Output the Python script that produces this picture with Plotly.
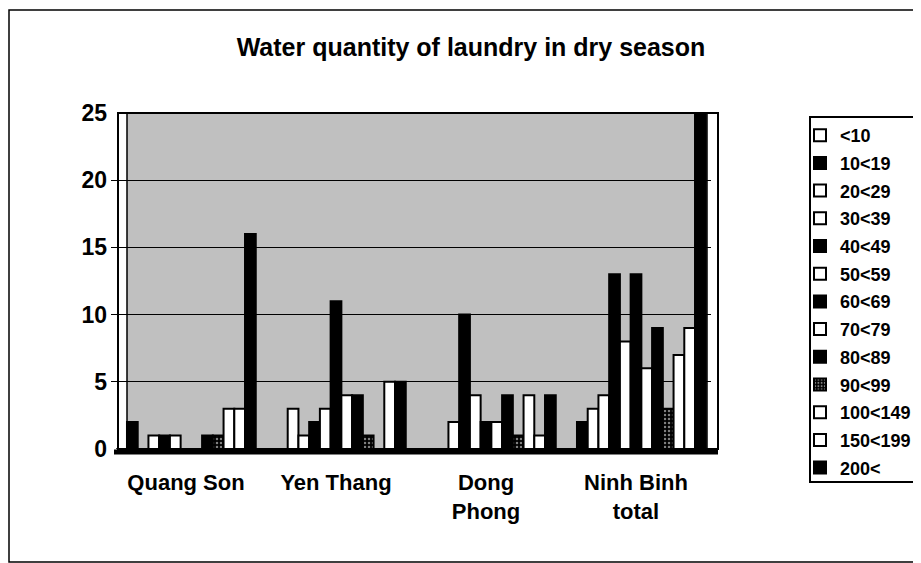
import plotly.graph_objects as go

# categories (x axis)
communes = ["Quang Son", "Yen Thang", "Dong<br>Phong", "Ninh Binh<br>total"]

# water quantity classes (legend)
classes = ["&lt;10", "10&lt;19", "20&lt;29", "30&lt;39", "40&lt;49", "50&lt;59", "60&lt;69",
           "70&lt;79", "80&lt;89", "90&lt;99", "100&lt;149", "150&lt;199", "200&lt;"]

# number of households per class, one list per commune
quang_son = [0, 2, 0, 1, 1, 1, 0, 0, 1, 1, 3, 3, 16]
yen_thang = [0, 0, 3, 1, 2, 3, 11, 4, 4, 1, 0, 5, 5]
dong_phong = [0, 0, 0, 2, 10, 4, 2, 2, 4, 1, 4, 1, 4]
ninh_binh_total = [0, 2, 3, 4, 13, 8, 13, 6, 9, 3, 7, 9, 25]

fills = ["white", "black", "white", "white", "black", "white", "black",
         "white", "black", "pattern", "white", "white", "black"]

# page has an 8px body margin, so the figure is laid out 8px up/left
W, H = 913, 555
L, R, T, B = 103, 703, 105, 441   # plot area in figure pixels


def px(x):
    return (x - 8 - L) / (R - L)


def py(y):
    return (B - (y - 8)) / (B - T)


fig = go.Figure()

for i, name in enumerate(classes):
    vals = [quang_son[i], yen_thang[i], dong_phong[i], ninh_binh_total[i]]
    marker = dict(line=dict(color="black", width=2))
    if fills[i] == "pattern":
        marker["color"] = "black"
        marker["pattern"] = dict(shape=".", fgcolor="white", bgcolor="black", size=4, solidity=0.3)
    else:
        marker["color"] = fills[i]
    fig.add_trace(go.Bar(x=communes, y=vals, name=name, marker=marker, legendgroup=str(i)))

FONT = "Liberation Sans, Arial, sans-serif"

fig.update_layout(
    width=W, height=H,
    barmode="group", bargap=0.07, bargroupgap=0,
    paper_bgcolor="white", plot_bgcolor="white",
    margin=dict(l=L, r=W - R, t=T, b=H - B, autoexpand=False),
    title=dict(text="Water quantity of laundry in dry season", x=(471 - 8) / W, xanchor="center",
               y=1 - (47 - 8) / H, yanchor="middle",
               font=dict(family=FONT, size=25, color="black", weight="bold")),
    legend=dict(x=px(800), xanchor="left", y=py(117), yanchor="top",
                borderwidth=0, bgcolor="rgba(0,0,0,0)", tracegroupgap=1.3, maxheight=440,
                font=dict(family=FONT, size=18, color="black", weight="bold"),
                itemclick=False),
    showlegend=True,
    font=dict(family=FONT, color="black"),
    shapes=[
        # stippled back wall of the plot area
        dict(type="rect", xref="paper", yref="paper", x0=px(127), x1=px(707), y0=0, y1=1,
             fillcolor="#c0c0c0", line=dict(color="black", width=1.5), layer="below"),
        # plot frame
        dict(type="rect", xref="paper", yref="paper", x0=px(118), x1=px(718), y0=0, y1=1,
             line=dict(color="black", width=2), fillcolor="rgba(0,0,0,0)", layer="above"),
        # base line
        dict(type="line", xref="paper", yref="paper", x0=px(114), x1=px(718), y0=py(452), y1=py(452),
             line=dict(color="black", width=5), layer="above"),
        # legend box
        dict(type="rect", xref="paper", yref="paper", x0=px(810), x1=1.6, y0=py(482), y1=py(117),
             line=dict(color="black", width=2), fillcolor="rgba(0,0,0,0)", layer="above"),
        # chart border
        dict(type="rect", xref="paper", yref="paper", x0=px(9), x1=1.6, y0=py(562), y1=py(10),
             line=dict(color="black", width=1.5), fillcolor="rgba(0,0,0,0)", layer="above"),
    ],
)

fig.update_xaxes(showline=False, showgrid=False, ticks="", ticklabelstandoff=18,
                 tickfont=dict(family=FONT, size=22, color="black", weight="bold"))
fig.update_yaxes(range=[0, 25], dtick=5, showline=False, showgrid=True, gridcolor="black",
                 gridwidth=1, zeroline=False, ticks="", ticklabelstandoff=3,
                 tickfont=dict(family=FONT, size=23, color="black", weight="bold"))

fig.write_html("out.html")
